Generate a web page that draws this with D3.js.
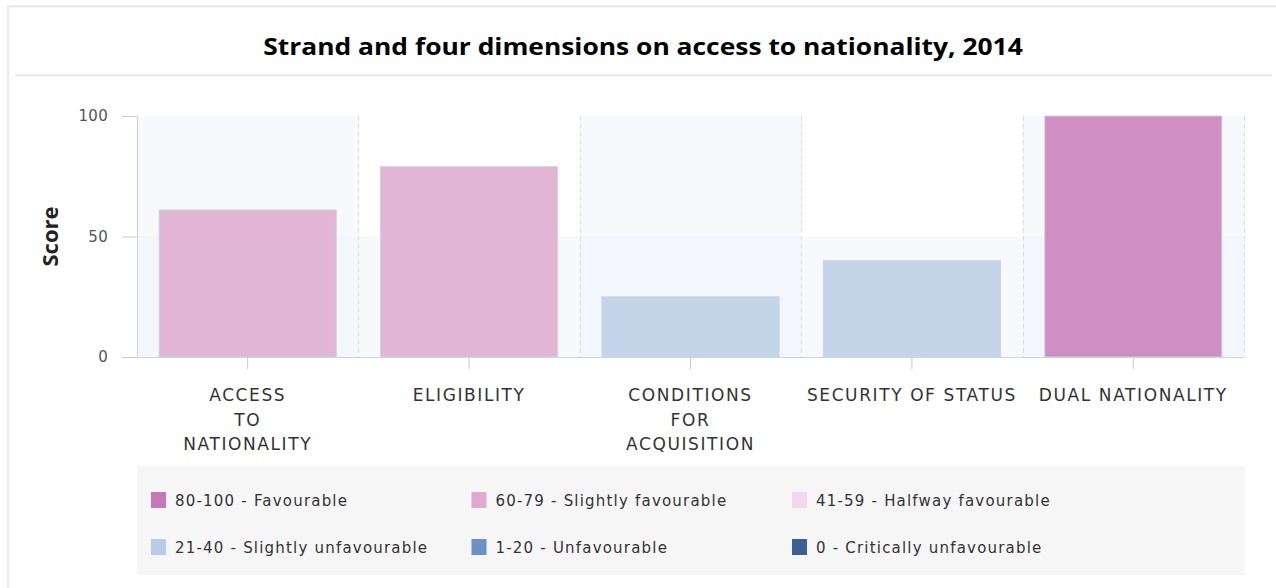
<!DOCTYPE html>
<html>
<head>
<meta charset="utf-8">
<script src="https://cdn.jsdelivr.net/npm/d3@7"></script>
<style>
  html, body { margin: 0; padding: 0; background: #fff; }
  svg { display: block; }
</style>
</head>
<body>
<svg id="chart" width="1276" height="588"></svg>
<script>
// Scores per strand / dimension
const categories = [
  "ACCESS\nTO\nNATIONALITY",
  "ELIGIBILITY",
  "CONDITIONS\nFOR\nACQUISITION",
  "SECURITY OF STATUS",
  "DUAL NATIONALITY"
];
const scores = [61, 79, 25, 40, 100];
const yTicks = [0, 50, 100];

// Score bands used for the colour legend
const bandLabels = [
  "80-100 - Favourable",
  "60-79 - Slightly favourable",
  "41-59 - Halfway favourable",
  "21-40 - Slightly unfavourable",
  "1-20 - Unfavourable",
  "0 - Critically unfavourable"
];
const bandColors = ["#c876b6", "#e0a9cf", "#f2d8ea", "#b9cce5", "#6b91c7", "#3c5f95"];
const bandMins = [80, 60, 41, 21, 1, 0];

// Lighter fills used on the columns themselves
const barColors = ["#cf8fc2", "#e2b5d5", "#f4e0ee", "#c5d5e9", "#8eaad4", "#5a78a8"];

const svg = d3.select("#chart");
const W = 1276, H = 588;
const plot = { left: 137, right: 1244, top: 116, bottom: 357 };

// Outer frame and title separator
svg.append("rect").attr("x", 7).attr("y", 5).attr("width", W - 7).attr("height", 2.5).attr("fill", "#ebebeb");
svg.append("rect").attr("x", 7).attr("y", 5).attr("width", 2.5).attr("height", H - 5).attr("fill", "#ebebeb");
svg.append("rect").attr("x", 15).attr("y", 74).attr("width", 1257).attr("height", 2.5).attr("fill", "#ebebeb");

svg.append("text")
  .attr("transform", "translate(643,55) scale(1.1,1)")
  .attr("text-anchor", "middle")
  .attr("font-family", "'Open Sans', sans-serif")
  .attr("font-weight", "bold")
  .attr("font-size", 24)
  .attr("fill", "#000")
  .text("Strand and four dimensions on access to nationality, 2014");

const x = d3.scaleBand().domain(d3.range(categories.length)).range([plot.left, plot.right]).padding(0);
const y = d3.scaleLinear().domain([0, 100]).range([plot.bottom, plot.top]);
const bw = x.bandwidth();

// Background shading: alternate columns and the lower half of the scale
const shade = svg.append("g");
shade.selectAll("rect.col")
  .data(d3.range(categories.length).filter(i => i % 2 === 0))
  .join("rect")
  .attr("x", i => x(i)).attr("y", y(100))
  .attr("width", bw).attr("height", y(0) - y(100))
  .attr("fill", "#eef2fb").attr("fill-opacity", 0.45);
shade.append("rect")
  .attr("x", plot.left).attr("y", y(50))
  .attr("width", plot.right - plot.left).attr("height", y(0) - y(50))
  .attr("fill", "#eef2fb").attr("fill-opacity", 0.45);

// Dashed separators between categories
svg.append("g").selectAll("line")
  .data(d3.range(1, categories.length + 1))
  .join("line")
  .attr("x1", i => Math.round(x(i - 1) + bw) + 0.5).attr("x2", i => Math.round(x(i - 1) + bw) + 0.5)
  .attr("y1", y(100)).attr("y2", y(0))
  .attr("stroke", "#dcdcdc").attr("stroke-dasharray", "5,3");

function colorFor(v) {
  const k = bandMins.findIndex(m => v >= m);
  return barColors[k];
}

// Columns
svg.append("g").selectAll("rect")
  .data(scores)
  .join("rect")
  .attr("x", (d, i) => x(i) + bw * 0.1)
  .attr("y", d => y(d))
  .attr("width", bw * 0.8)
  .attr("height", d => y(0) - y(d))
  .attr("fill", d => colorFor(d))
  .attr("stroke", "#cfd3e8").attr("stroke-width", 1);

// Y axis
const yAxis = svg.append("g")
  .attr("transform", `translate(${plot.left},0)`)
  .call(d3.axisLeft(y).tickValues(yTicks).tickSize(15).tickPadding(14));
yAxis.select(".domain").attr("stroke", "#cdd3e3").attr("d", `M0.5,${plot.top}V${plot.bottom}`);
yAxis.selectAll(".tick line").attr("stroke", "#c8c8c8");
yAxis.selectAll(".tick text")
  .attr("font-family", "'DejaVu Sans', sans-serif")
  .attr("font-size", 15)
  .attr("letter-spacing", 0.3)
  .attr("fill", "#555");

svg.append("text")
  .attr("transform", `translate(58,${(plot.top + plot.bottom) / 2}) rotate(-90)`)
  .attr("text-anchor", "middle")
  .attr("font-family", "'Open Sans', sans-serif")
  .attr("font-weight", "bold")
  .attr("font-size", 22)
  .attr("fill", "#222")
  .text("Score");

// X axis
const xAxis = svg.append("g")
  .attr("transform", `translate(0,${plot.bottom})`)
  .call(d3.axisBottom(x).tickSize(12).tickFormat(""));
xAxis.select(".domain").attr("stroke", "#cdd3e3").attr("d", `M${plot.left},0.5H${plot.right}`);
xAxis.selectAll(".tick line").attr("stroke", "#c8c8c8");
xAxis.selectAll(".tick").each(function (d) {
  const lines = categories[d].split("\n");
  d3.select(this).append("text")
    .attr("text-anchor", "middle")
    .attr("font-family", "'DejaVu Sans', sans-serif")
    .attr("font-size", 17)
    .attr("letter-spacing", 1.6)
    .attr("fill", "#333")
    .selectAll("tspan")
    .data(lines)
    .join("tspan")
    .attr("x", 0)
    .attr("y", (l, j) => 44 + j * 24.5)
    .text(l => l);
});

// Legend
const legend = svg.append("g");
legend.append("rect")
  .attr("x", 137).attr("y", 466).attr("width", 1108).attr("height", 109)
  .attr("fill", "#f6f6f6");
const item = legend.selectAll("g.item")
  .data(bandLabels)
  .join("g")
  .attr("transform", (d, i) => `translate(${151 + (i % 3) * 320.5},${500 + Math.floor(i / 3) * 47})`);
item.append("rect")
  .attr("x", 0).attr("y", -8).attr("width", 15).attr("height", 16)
  .attr("fill", (d, i) => bandColors[i]);
item.append("text")
  .attr("x", 24).attr("y", 5.5)
  .attr("font-family", "'DejaVu Sans', sans-serif")
  .attr("font-size", 15)
  .attr("letter-spacing", 1.2)
  .attr("fill", "#333")
  .text(d => d);
</script>
</body>
</html>
